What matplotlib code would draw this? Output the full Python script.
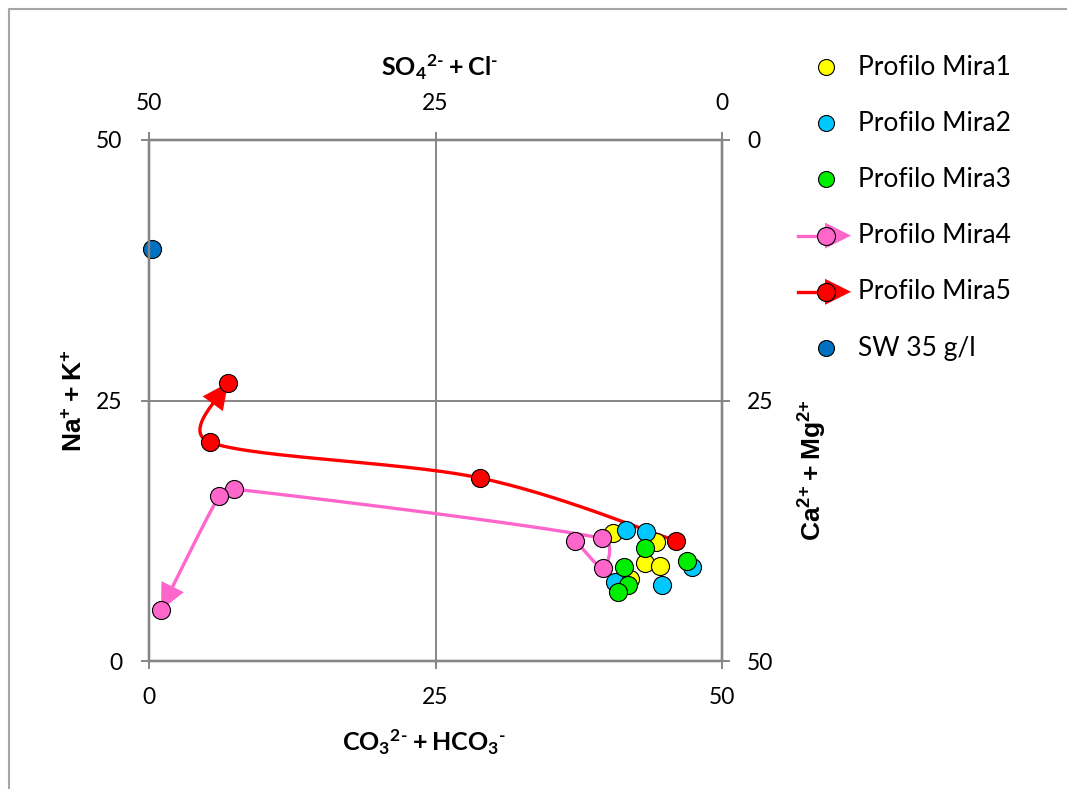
import numpy as np
import matplotlib
matplotlib.use("Agg")
import matplotlib.pyplot as plt
from matplotlib.patches import Polygon

plt.rcParams['font.family'] = ['Lato', 'DejaVu Sans']
plt.rcParams['mathtext.fontset'] = 'custom'
plt.rcParams['mathtext.bf'] = 'Lato:bold'
plt.rcParams['mathtext.rm'] = 'Lato:bold'
plt.rcParams['mathtext.sf'] = 'Liberation Sans:bold'
plt.rcParams['mathtext.default'] = 'bf'

# ---------------- data (x = CO3+HCO3, y = Na+K) ----------------
mira1_x = [40.45, 44.2, 43.3, 44.6, 42.0]
mira1_y = [12.3, 11.45, 9.37, 9.15, 7.87]
mira2_x = [41.6, 43.4, 47.35, 40.66, 44.8]
mira2_y = [12.57, 12.4, 9.05, 7.6, 7.3]
mira3_x = [43.3, 41.45, 46.97, 41.8, 40.95]
mira3_y = [10.8, 9.05, 9.6, 7.3, 6.65]
mira4_x = [37.2, 39.6, 39.5, 7.4, 6.1, 1.05]
mira4_y = [11.55, 8.9, 11.77, 16.5, 15.8, 4.9]
mira5_x = [45.96, 28.9, 5.3, 6.9]
mira5_y = [11.55, 17.56, 21.0, 26.7]
sw_x = [0.26]
sw_y = [39.5]

labels = ["Profilo Mira1", "Profilo Mira2", "Profilo Mira3",
          "Profilo Mira4", "Profilo Mira5", "SW 35 g/l"]
colors = ["#FFFF00", "#00C8FF", "#00EE00", "#FF66CC", "#FF0000", "#0070C0"]
ticks = [0, 25, 50]
tick_labels = ["0", "25", "50"]

W, H = 1067, 789
fig = plt.figure(figsize=(W / 100, H / 100), dpi=100)
L, R, T, B = 149, 722, 140, 661
ax = fig.add_axes([L / W, 1 - B / H, (R - L) / W, (B - T) / H])
ax.set_xlim(0, 50)
ax.set_ylim(0, 50)

gray = "#868686"
for s in ax.spines.values():
    s.set_color(gray)
    s.set_linewidth(1.6)
ax.set_xticks(ticks)
ax.set_xticklabels(tick_labels)
ax.set_yticks(ticks)
ax.set_yticklabels(tick_labels)
ax.grid(True, color=gray, linewidth=1.4)
ax.tick_params(direction='out', length=6, width=1.4, color=gray,
               labelsize=16.5, pad=13)

# secondary axes (top: SO4+Cl reversed, right: Ca+Mg reversed)
axt = ax.twiny()
axt.set_xlim(50, 0)
axt.set_xticks(ticks)
axt.set_xticklabels(tick_labels)
axt.tick_params(direction='out', length=6, width=1.4, color=gray,
                labelsize=16.5, pad=13)
axr = ax.twinx()
axr.set_ylim(50, 0)
axr.set_yticks(ticks)
axr.set_yticklabels(tick_labels)
axr.tick_params(direction='out', length=6, width=1.4, color=gray,
                labelsize=16.5, pad=12)
for a in (axt, axr):
    for s in a.spines.values():
        s.set_color(gray)
        s.set_linewidth(1.6)


def smooth_pixels(xs, ys, n=50):
    """Excel-like smoothed line (Bezier, tension 1/6, capped control arms)."""
    P = ax.transData.transform(np.column_stack([xs, ys]))
    m = len(P)
    out = [P[0]]
    t = np.linspace(0, 1, n)[1:]
    for i in range(m - 1):
        p0 = P[i - 1] if i > 0 else P[i]
        p1 = P[i]
        p2 = P[i + 1]
        p3 = P[i + 2] if i + 2 < m else P[i + 1]
        seg = np.linalg.norm(p2 - p1)
        v = (p2 - p0) / 6.0
        w = (p3 - p1) / 6.0
        cap = seg / 2.0
        if np.linalg.norm(v) > cap:
            v = v / np.linalg.norm(v) * cap
        if np.linalg.norm(w) > cap:
            w = w / np.linalg.norm(w) * cap
        c1 = p1 + v
        c2 = p2 - w
        for tt in t:
            q = ((1 - tt) ** 3) * p1 + 3 * ((1 - tt) ** 2) * tt * c1 \
                + 3 * (1 - tt) * tt ** 2 * c2 + tt ** 3 * p2
            out.append(q)
    return np.array(out)


def draw_arrow_series(xs, ys, color, alen=26, awid=25):
    pts = smooth_pixels(xs, ys)
    seg = np.sqrt(((pts[1:] - pts[:-1]) ** 2).sum(axis=1))
    cum = np.concatenate([[0], np.cumsum(seg)])
    target = cum[-1] - alen
    k = np.searchsorted(cum, target)
    f = (target - cum[k - 1]) / max(seg[k - 1], 1e-9)
    base = pts[k - 1] + f * (pts[k] - pts[k - 1])
    tip = pts[-1]
    d = (tip - base) / np.linalg.norm(tip - base)
    nrm = np.array([-d[1], d[0]])
    line_pts = np.vstack([pts[:k], base + d * 4])
    inv = ax.transData.inverted()
    ld = inv.transform(line_pts)
    ax.plot(ld[:, 0], ld[:, 1], color=color, lw=2.4, zorder=2,
            solid_capstyle='butt')
    tri = np.array([tip, base + nrm * awid / 2, base - nrm * awid / 2])
    ax.add_patch(Polygon(inv.transform(tri), closed=True, facecolor=color,
                         edgecolor='none', zorder=3))


draw_arrow_series(mira4_x, mira4_y, colors[3])
draw_arrow_series(mira5_x, mira5_y, colors[4])

ms = 13
series = [(mira1_x, mira1_y), (mira2_x, mira2_y), (mira3_x, mira3_y),
          (mira4_x, mira4_y), (mira5_x, mira5_y), (sw_x, sw_y)]
for i, (xs, ys) in enumerate(series):
    ax.plot(xs, ys, linestyle='none', marker='o', ms=ms,
            markerfacecolor=colors[i], markeredgecolor='black',
            markeredgewidth=0.8, zorder=5 + i, clip_on=False)

# axis titles
fig.text(440 / W, 1 - 67 / H, r"$SO_4{}^{2\text{-}}+Cl^{\text{-}}$", ha='center',
         va='center', fontsize=18)
fig.text(424 / W, 1 - 742 / H, r"$CO_3{}^{2\text{-}}+HCO_3{}^{\text{-}}$",
         ha='center', va='center', fontsize=18)
fig.text(74 / W, 1 - 401 / H, r"$\mathsf{Na^{+}+K^{+}}$", ha='center',
         va='center', rotation=90, fontsize=19)
fig.text(813 / W, 1 - 470 / H, r"$\mathsf{Ca^{2{+}}+Mg^{2{+}}}$", ha='center',
         va='center', rotation=90, fontsize=19)

# overlay for frame (pixel coordinates)
ov = fig.add_axes([0, 0, 1, 1], zorder=-1)
ov.set_xlim(0, W)
ov.set_ylim(H, 0)
ov.axis('off')
ov.plot([8.5, 8.5, W], [H, 8.5, 8.5], color="#A6A6A6", lw=1.5)

# legend (pixel coordinates)
lg = fig.add_axes([0, 0, 1, 1], zorder=10)
lg.set_xlim(0, W)
lg.set_ylim(H, 0)
lg.axis('off')
for i, lab in enumerate(labels):
    yy = 67 + 56.2 * i
    if i in (3, 4):
        lg.plot([798, 826], [yy, yy], color=colors[i], lw=2.4)
        lg.add_patch(Polygon([[825, yy - 13], [825, yy + 13], [851, yy]],
                             closed=True, facecolor=colors[i], edgecolor='none'))
        lg.plot([826], [yy], marker='o', ms=13, markerfacecolor=colors[i],
                markeredgecolor='black', markeredgewidth=0.8)
    else:
        lg.plot([826], [yy], marker='o', ms=11.5, markerfacecolor=colors[i],
                markeredgecolor='black', markeredgewidth=0.8)
    lg.text(858, yy, lab, ha='left', va='center', fontsize=19)

fig.savefig("out.png", dpi=100, facecolor='white')
